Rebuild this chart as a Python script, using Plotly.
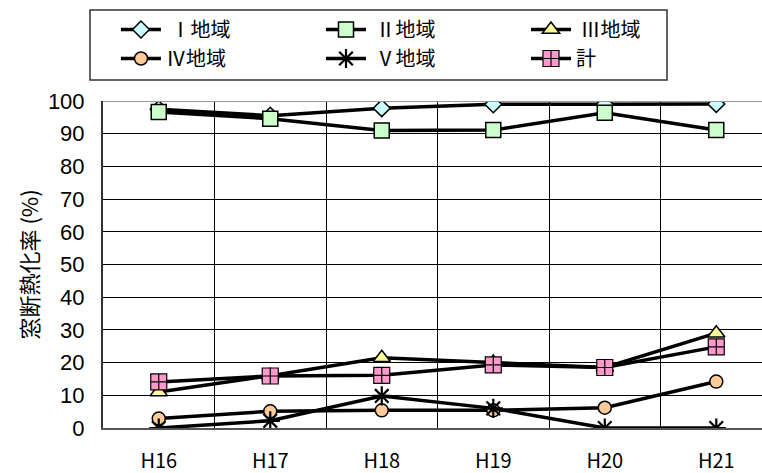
import plotly.graph_objects as go

# Fiscal years (Heisei) on the category axis
years = ["H16", "H17", "H18", "H19", "H20", "H21"]

# Window insulation rate (%) by climate region
region_1 = [97.5, 95.5, 97.8, 99.0, 99.0, 99.1]
region_2 = [96.6, 94.6, 91.0, 91.1, 96.4, 91.1]
region_3 = [11.0, 16.0, 21.5, 20.0, 18.5, 29.0]
region_4 = [2.9, 5.1, 5.4, 5.4, 6.2, 14.2]
region_5 = [0.0, 2.2, 9.8, 6.0, 0.0, 0.0]
total = [14.1, 15.9, 16.1, 19.3, 18.5, 24.8]

names = [" Ⅰ地域", " Ⅱ地域", " Ⅲ地域", "Ⅳ地域", " Ⅴ地域", "計"]
series = [region_1, region_2, region_3, region_4, region_5, total]
symbols = ["diamond", "square", "triangle-up", "circle", "asterisk-open", "square-cross"]
fills = ["#CCFFFF", "#CCFFCC", "#FFFF99", "#FFCC99", "#000000", "#FF99CC"]
sizes = [13, 15, 15, 13, 16, 16]
edge_w = [1.5, 1.5, 1.5, 1.5, 2.2, 1.2]

JP = "Noto Sans CJK JP"

fig = go.Figure()
for name, vals, sym, col, sz, ew in zip(names, series, symbols, fills, sizes, edge_w):
    fig.add_trace(go.Scatter(
        x=years, y=vals, name=name, mode="lines+markers",
        line=dict(color="#000000", width=3.5),
        marker=dict(symbol=sym, size=sz, color=col,
                    line=dict(color="#000000", width=ew)),
    ))

# pixel helpers for placing the legend frame in paper coordinates
PL, PW, PB, PH = 103, 659, 428, 327
px = lambda v: (v - PL) / PW
py = lambda v: (PB - v) / PH

fig.update_layout(
    width=762, height=473,
    margin=dict(l=103, r=0, t=101, b=45),
    paper_bgcolor="#FFFFFF", plot_bgcolor="#FFFFFF",
    font=dict(family=JP, size=20, color="#000000"),
    showlegend=True,
    legend=dict(
        orientation="h", x=px(116), xanchor="left", y=py(10), yanchor="top",
        entrywidth=150, entrywidthmode="pixels",
        borderwidth=0, bgcolor="rgba(0,0,0,0)",
        font=dict(family=JP, size=20), traceorder="normal",
        itemwidth=40,
    ),
    xaxis=dict(
        type="category", range=[-0.5, 5.41], tickson="boundaries",
        showgrid=True, gridcolor="#000000", gridwidth=1,
        showline=True, linecolor="#555555", linewidth=2,
        ticks="", ticklabelstandoff=14,
        tickfont=dict(family=JP, size=20),
    ),
    yaxis=dict(
        range=[0, 100], tickvals=list(range(0, 101, 10)),
        showgrid=True, gridcolor="#000000", gridwidth=1,
        showline=True, linecolor="#333333", linewidth=2,
        zeroline=False, ticks="", ticklabelstandoff=12,
        tickfont=dict(family="Liberation Sans", size=22),
    ),
    shapes=[
        dict(type="line", xref="paper", yref="y", x0=0, x1=1, y0=100, y1=100,
             line=dict(color="#999999", width=2)),
        dict(type="rect", xref="paper", yref="paper",
             x0=px(90), x1=px(667), y0=py(80), y1=py(10),
             line=dict(color="#333333", width=1.5), fillcolor="rgba(0,0,0,0)"),
    ],
    annotations=[dict(
        text="窓断熱化率 (%)", xref="paper", yref="paper",
        x=px(27), y=0.5, textangle=-90, showarrow=False,
        xanchor="center", yanchor="middle", font=dict(family=JP, size=22),
    )],
)

fig.write_html("out.html")
